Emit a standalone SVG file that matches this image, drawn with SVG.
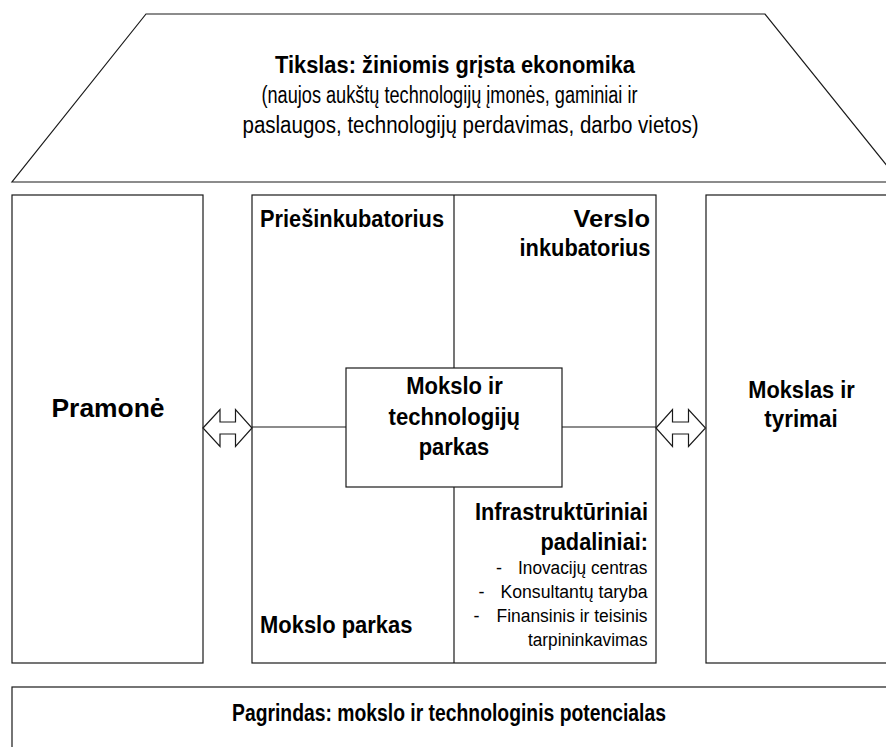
<svg xmlns="http://www.w3.org/2000/svg" width="886" height="747" viewBox="0 0 886 747">
<style>
.s{fill:#fff;stroke:#1a1a1a;stroke-width:1.2}
.ln{stroke:#1a1a1a;stroke-width:1.2;fill:none}
.b{font-family:"Liberation Sans",Arial,sans-serif;font-weight:bold;font-size:23.5px;fill:#000}
.r{font-family:"Liberation Sans",Arial,sans-serif;font-size:23px;fill:#000}
.sm{font-family:"Liberation Sans",Arial,sans-serif;font-size:18px;fill:#000}
.m{text-anchor:middle}
.e{text-anchor:end}
</style>
<rect width="886" height="747" fill="#fff"/>
<g id="tikslas">
<polygon class="s" points="146,14 765,14 900,182 12,182"/>
<text class="b m" x="455" y="73" textLength="360" lengthAdjust="spacingAndGlyphs">Tikslas: žiniomis grįsta ekonomika</text>
<text class="r m" x="449.5" y="103" textLength="376" lengthAdjust="spacingAndGlyphs">(naujos aukštų technologijų įmonės, gaminiai ir</text>
<text class="r m" x="470.5" y="133" textLength="456" lengthAdjust="spacingAndGlyphs">paslaugos, technologijų perdavimas, darbo vietos)</text>
</g>
<g id="pramone">
<rect class="s" x="12" y="195" width="191" height="468"/>
<text class="b m" x="108" y="417" style="font-size:25px" textLength="113" lengthAdjust="spacingAndGlyphs">Pramonė</text>
</g>
<g id="parkas-zona">
<rect class="s" x="252" y="195" width="404" height="468"/>
</g>
<g id="mokslas">
<rect class="s" x="706" y="195" width="200" height="468"/>
<text class="b m" x="801.5" y="398" textLength="106.5" lengthAdjust="spacingAndGlyphs">Mokslas ir</text>
<text class="b m" x="801" y="427" textLength="73.5" lengthAdjust="spacingAndGlyphs">tyrimai</text>
</g>
<g id="pagrindas">
<rect class="s" x="12" y="687" width="900" height="80"/>
<text class="b m" x="449" y="721" textLength="434" lengthAdjust="spacingAndGlyphs">Pagrindas: mokslo ir technologinis potencialas</text>
</g>
<g id="connectors">
<line class="ln" x1="454" y1="195" x2="454" y2="368"/>
<line class="ln" x1="454" y1="487" x2="454" y2="663"/>
<line class="ln" x1="252" y1="427" x2="346" y2="427"/>
<line class="ln" x1="562" y1="427" x2="656" y2="427"/>
<polygon class="s" points="203,428 220,409.5 220,422 235.5,422 235.5,409.5 252,428 235.5,446.5 235.5,434 220,434 220,446.5"/>
<polygon class="s" points="656,428 672.5,409.5 672.5,422 688.5,422 688.5,409.5 705.5,428 688.5,446.5 688.5,434 672.5,434 672.5,446.5"/>
</g>
<g id="priesinkubatorius">
<text class="b" x="260" y="227" textLength="184" lengthAdjust="spacingAndGlyphs">Priešinkubatorius</text>
</g>
<g id="verslo-inkubatorius">
<text class="b e" x="650" y="227" textLength="76.5" lengthAdjust="spacingAndGlyphs">Verslo</text>
<text class="b e" x="650.5" y="256" textLength="131" lengthAdjust="spacingAndGlyphs">inkubatorius</text>
</g>
<g id="mokslo-parkas">
<text class="b" x="260" y="633" textLength="152.5" lengthAdjust="spacingAndGlyphs">Mokslo parkas</text>
</g>
<g id="infrastrukturiniai">
<text class="b e" x="648" y="520" textLength="173" lengthAdjust="spacingAndGlyphs">Infrastruktūriniai</text>
<text class="b e" x="648" y="550" textLength="107.5" lengthAdjust="spacingAndGlyphs">padaliniai:</text>
<text class="sm e" x="647.5" y="574" textLength="129.5" lengthAdjust="spacingAndGlyphs">Inovacijų centras</text>
<text class="sm" x="496" y="574">-</text>
<text class="sm e" x="647.5" y="598" textLength="147" lengthAdjust="spacingAndGlyphs">Konsultantų taryba</text>
<text class="sm" x="478.5" y="598">-</text>
<text class="sm e" x="647.5" y="622" textLength="151" lengthAdjust="spacingAndGlyphs">Finansinis ir teisinis</text>
<text class="sm" x="473.5" y="622">-</text>
<text class="sm e" x="647.5" y="646" textLength="119.5" lengthAdjust="spacingAndGlyphs">tarpininkavimas</text>
</g>
<g id="mtp">
<rect class="s" x="346" y="368" width="216" height="119"/>
<text class="b m" x="454.5" y="394" textLength="96.5" lengthAdjust="spacingAndGlyphs">Mokslo ir</text>
<text class="b m" x="454.3" y="425" textLength="131.5" lengthAdjust="spacingAndGlyphs">technologijų</text>
<text class="b m" x="454" y="455" textLength="70.5" lengthAdjust="spacingAndGlyphs">parkas</text>
</g>
</svg>
